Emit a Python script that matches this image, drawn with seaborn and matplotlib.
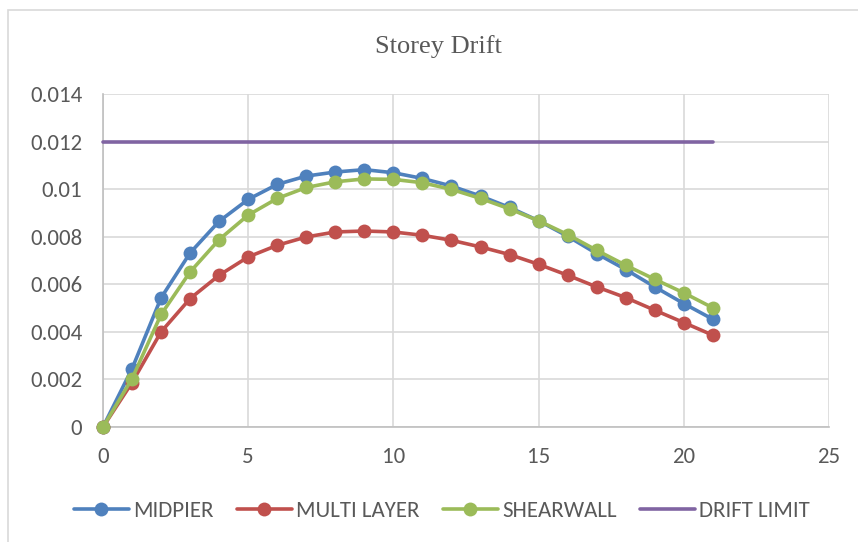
import matplotlib
matplotlib.use("Agg")
import matplotlib.pyplot as plt
from matplotlib.patches import Rectangle
import seaborn as sns
import pandas as pd

# Storey numbers and drift values per structural system
storeys = list(range(22))
midpier = [0.0, 0.00245, 0.00543, 0.00732, 0.00865, 0.00957, 0.01020, 0.01055,
           0.01072, 0.01082, 0.01069, 0.01045, 0.01013, 0.00971, 0.00923, 0.00867,
           0.00802, 0.00729, 0.00662, 0.00589, 0.00519, 0.00453]
multi_layer = [0.0, 0.00187, 0.00400, 0.00540, 0.00638, 0.00715, 0.00764, 0.00799,
               0.00820, 0.00824, 0.00820, 0.00806, 0.00785, 0.00757, 0.00725, 0.00684,
               0.00638, 0.00589, 0.00544, 0.00491, 0.00439, 0.00386]
shearwall = [0.0, 0.00203, 0.00473, 0.00652, 0.00788, 0.00891, 0.00961, 0.01007,
             0.01031, 0.01043, 0.01041, 0.01027, 0.00999, 0.00961, 0.00917, 0.00867,
             0.00809, 0.00743, 0.00680, 0.00621, 0.00564, 0.00501]
drift_limit = [0.012] * len(storeys)

series_names = ["MIDPIER", "MULTI LAYER", "SHEARWALL", "DRIFT LIMIT"]
colors = ["#4F81BD", "#C0504D", "#9BBB59", "#8064A2"]

x_ticks = [0, 5, 10, 15, 20, 25]
y_ticks = [0, 0.002, 0.004, 0.006, 0.008, 0.010, 0.012, 0.014]
y_tick_labels = ["0", "0.002", "0.004", "0.006", "0.008", "0.01", "0.012", "0.014"]

df = pd.DataFrame({
    "storey": storeys * 4,
    "drift": midpier + multi_layer + shearwall + drift_limit,
    "series": sum([[n] * len(storeys) for n in series_names], []),
})

sns.set_theme(style="white")
plt.rcParams["font.family"] = ["Carlito", "Liberation Sans", "DejaVu Sans"]

text_color = "#595959"
W, H = 858, 542
fig = plt.figure(figsize=(W / 100, H / 100), dpi=100)
ax = fig.add_axes([103 / W, 1 - 427 / H, (829 - 103) / W, (427 - 94) / H])

for name, color in zip(series_names, colors):
    sub = df[df["series"] == name]
    is_limit = name == "DRIFT LIMIT"
    sns.lineplot(data=sub, x="storey", y="drift", ax=ax, color=color,
                 linewidth=2.6, marker=None if is_limit else "o",
                 markersize=10, markeredgewidth=0, label=name, legend=False,
                 zorder=3, clip_on=False)

ax.set_xlim(0, 25)
ax.set_ylim(0, 0.014)
ax.set_xticks(x_ticks)
ax.set_xticklabels([str(t) for t in x_ticks])
ax.set_yticks(y_ticks)
ax.set_yticklabels(y_tick_labels)
ax.grid(True, color="#D9D9D9", linewidth=1.2)
ax.set_axisbelow(True)
ax.set_xlabel("")
ax.set_ylabel("")
for side in ["top", "right"]:
    ax.spines[side].set_visible(False)
for side in ["left", "bottom"]:
    ax.spines[side].set_color("#BFBFBF")
    ax.spines[side].set_linewidth(1.2)
ax.tick_params(axis="both", length=0, labelsize=16.5, colors=text_color)
ax.tick_params(axis="y", pad=15)
ax.tick_params(axis="x", pad=14.5)

fig.text(438.5 / W, 1 - 47 / H, "Storey Drift", ha="center", va="center",
         fontsize=19, color=text_color, family=["Liberation Serif", "DejaVu Serif"])

handles, labels = ax.get_legend_handles_labels()
fig.legend(handles, labels, loc="center", ncol=4,
           bbox_to_anchor=(442 / W, 1 - 511 / H), frameon=False,
           fontsize=16.5, handlelength=2.4, columnspacing=1.0,
           handletextpad=0.2, labelcolor=text_color)

fig.patches.append(Rectangle((8 / W, -0.02), 1.0, 1 - 10 / H + 0.02,
                             transform=fig.transFigure, fill=False,
                             edgecolor="#D9D9D9", linewidth=1.2))

fig.savefig("out.png", dpi=100, facecolor="white")
